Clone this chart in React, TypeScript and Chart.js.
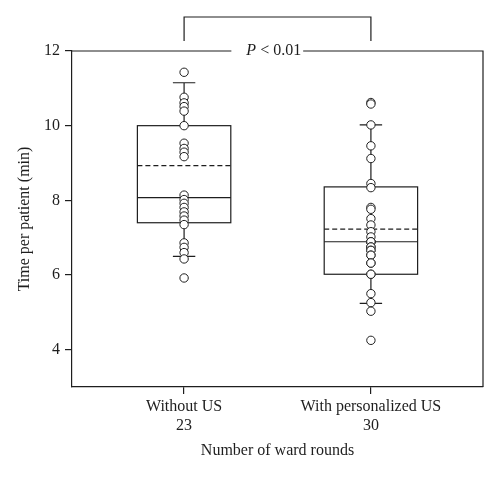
import React, { useEffect, useRef } from "react";
import { Chart, registerables } from "chart.js";

Chart.register(...registerables);

// groups on the x axis (placed at x = 1, 2)
const categories = ["Without US", "With personalized US"];
const roundCounts = ["23", "30"];
const yTicks = [4, 6, 8, 10, 12];

// individual ward rounds (min per patient)
const withoutUS = [
  11.43, 10.76, 10.61, 10.51, 10.39, 10.0, 9.53, 9.39, 9.29, 9.17, 8.14, 8.02,
  7.92, 7.81, 7.69, 7.58, 7.47, 7.35, 6.86, 6.74, 6.6, 6.43, 5.92,
];
const withPersonalizedUS = [
  10.62, 10.58, 10.02, 9.46, 9.12, 8.45, 8.34, 7.81, 7.76, 7.51, 7.34, 7.16,
  7.02, 6.89, 6.89, 6.89, 6.75, 6.75, 6.66, 6.66, 6.53, 6.53, 6.32, 6.32, 6.02,
  6.02, 5.5, 5.26, 5.03, 4.25,
];

// box summary per group
const whiskerLow = [6.5, 5.24];
const q1 = [7.4, 6.02];
const median = [8.07, 6.89];
const mean = [8.93, 7.23];
const q3 = [10.0, 8.36];
const whiskerHigh = [11.15, 10.02];

const pText = "< 0.01";

const FONT = "'Liberation Serif', 'Times New Roman', serif";
const INK = "#1e1e1e";

const boxPlugin = {
  id: "boxes",
  beforeDatasetsDraw(chart: any) {
    const { ctx } = chart;
    const x = chart.scales.x;
    const y = chart.scales.y;
    const halfBox = 0.25;
    const halfCap = 0.06;
    ctx.save();
    ctx.strokeStyle = INK;
    ctx.lineWidth = 1.2;
    categories.forEach((_, i) => {
      const c = i + 1;
      const xl = x.getPixelForValue(c - halfBox);
      const xr = x.getPixelForValue(c + halfBox);
      const xc = x.getPixelForValue(c);
      const cl = x.getPixelForValue(c - halfCap);
      const cr = x.getPixelForValue(c + halfCap);
      const yq1 = y.getPixelForValue(q1[i]);
      const yq3 = y.getPixelForValue(q3[i]);
      const ylo = y.getPixelForValue(whiskerLow[i]);
      const yhi = y.getPixelForValue(whiskerHigh[i]);
      const ymed = y.getPixelForValue(median[i]);
      const ymean = y.getPixelForValue(mean[i]);

      ctx.setLineDash([]);
      ctx.strokeRect(xl, yq3, xr - xl, yq1 - yq3);
      ctx.beginPath();
      // whiskers
      ctx.moveTo(xc, yq3);
      ctx.lineTo(xc, yhi);
      ctx.moveTo(cl, yhi);
      ctx.lineTo(cr, yhi);
      ctx.moveTo(xc, yq1);
      ctx.lineTo(xc, ylo);
      ctx.moveTo(cl, ylo);
      ctx.lineTo(cr, ylo);
      // median
      ctx.moveTo(xl, ymed);
      ctx.lineTo(xr, ymed);
      ctx.stroke();
      // mean
      ctx.setLineDash([5, 3]);
      ctx.beginPath();
      ctx.moveTo(xl, ymean);
      ctx.lineTo(xr, ymean);
      ctx.stroke();
    });
    ctx.restore();
  },
  afterDraw(chart: any) {
    const { ctx, chartArea } = chart;
    const x = chart.scales.x;
    ctx.save();
    ctx.strokeStyle = INK;
    ctx.lineWidth = 1.2;
    ctx.setLineDash([]);
    // top and right frame
    ctx.beginPath();
    ctx.moveTo(chartArea.left, chartArea.top);
    ctx.lineTo(chartArea.right, chartArea.top);
    ctx.lineTo(chartArea.right, chartArea.bottom);
    ctx.stroke();

    // significance text breaking the top frame
    ctx.font = `italic 16px ${FONT}`;
    const pw = ctx.measureText("P").width;
    ctx.font = `16px ${FONT}`;
    const rw = ctx.measureText(" " + pText).width;
    const tx = x.getPixelForValue(1.48) - (pw + rw) / 2;
    ctx.fillStyle = "#fff";
    ctx.fillRect(tx - 15, chartArea.top - 3, pw + rw + 17, 6);
    ctx.fillStyle = INK;
    ctx.textBaseline = "middle";
    ctx.textAlign = "left";
    ctx.font = `italic 16px ${FONT}`;
    ctx.fillText("P", tx, chartArea.top);
    ctx.font = `16px ${FONT}`;
    ctx.fillText(" " + pText, tx + pw, chartArea.top);

    // bracket between groups
    const b1 = x.getPixelForValue(1);
    const b2 = x.getPixelForValue(2);
    const bt = chartArea.top - 34;
    const bb = chartArea.top - 10;
    ctx.beginPath();
    ctx.moveTo(b1, bb);
    ctx.lineTo(b1, bt);
    ctx.lineTo(b2, bt);
    ctx.lineTo(b2, bb);
    ctx.stroke();
    ctx.restore();
  },
};

const App: React.FC = () => {
  const canvasRef = useRef<HTMLCanvasElement | null>(null);

  useEffect(() => {
    if (!canvasRef.current) return;
    const pointStyle = {
      pointRadius: 4.2,
      pointBackgroundColor: "#fff",
      pointBorderColor: INK,
      pointBorderWidth: 1,
      showLine: false,
    };
    const chart = new Chart(canvasRef.current, {
      type: "scatter",
      data: {
        datasets: [
          { label: categories[0], data: withoutUS.map((v) => ({ x: 1, y: v })), ...pointStyle },
          { label: categories[1], data: withPersonalizedUS.map((v) => ({ x: 2, y: v })), ...pointStyle },
        ],
      },
      options: {
        responsive: false,
        animation: false,
        events: [],
        layout: { padding: { top: 51, right: 17, left: 0, bottom: 0 } },
        plugins: {
          legend: { display: false },
          tooltip: { enabled: false },
        },
        scales: {
          x: {
            type: "linear",
            min: 0.4,
            max: 2.6,
            afterBuildTicks: (axis: any) => {
              axis.ticks = categories.map((_, i) => ({ value: i + 1 }));
            },
            afterFit: (scale: any) => {
              scale.height = 91;
            },
            ticks: {
              color: INK,
              font: { family: FONT, size: 16 },
              padding: 3,
              maxRotation: 0,
              callback: (v: any) => {
                const i = Math.round(Number(v)) - 1;
                return [categories[i], roundCounts[i]];
              },
            },
            grid: { drawOnChartArea: false, drawTicks: true, tickLength: 7, color: INK, lineWidth: 1.2 },
            border: { display: true, color: INK, width: 1.2 },
            title: {
              display: true,
              text: "Number of ward rounds",
              color: INK,
              font: { family: FONT, size: 16 },
              padding: { top: 4, bottom: 18 },
            },
          },
          y: {
            min: 3,
            max: 12,
            afterBuildTicks: (axis: any) => {
              axis.ticks = yTicks.map((v) => ({ value: v }));
            },
            afterFit: (scale: any) => {
              scale.width = 72;
            },
            ticks: {
              color: INK,
              font: { family: FONT, size: 16 },
              padding: 5,
            },
            grid: { drawOnChartArea: false, drawTicks: true, tickLength: 7, color: INK, lineWidth: 1.2 },
            border: { display: true, color: INK, width: 1.2 },
            title: {
              display: true,
              text: "Time per patient (min)",
              color: INK,
              font: { family: FONT, size: 16 },
              padding: { top: 15, bottom: 0 },
            },
          },
        },
      } as any,
      plugins: [boxPlugin],
    });
    return () => chart.destroy();
  }, []);

  return (
    <div style={{ position: "absolute", left: 0, top: 0, width: 500, height: 478, background: "#fff" }}>
      <canvas ref={canvasRef} width={500} height={478} />
    </div>
  );
};

export default App;
